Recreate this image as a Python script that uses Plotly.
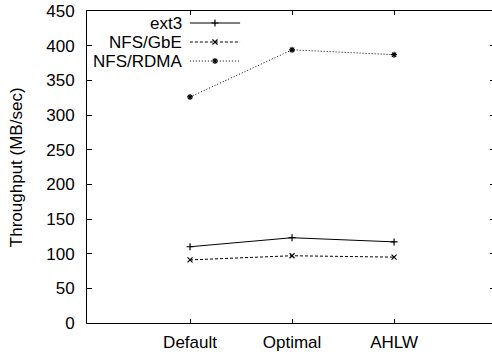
import plotly.graph_objects as go

categories = ["Default", "Optimal", "AHLW"]
ext3 = [110, 123, 117]
nfs_gbe = [91, 97, 95]
nfs_rdma = [326, 394, 387]
series_names = ["ext3", "NFS/GbE", "NFS/RDMA"]
y_ticks = [0, 50, 100, 150, 200, 250, 300, 350, 400, 450]

FONT = "Liberation Sans, Arial, Helvetica, sans-serif"
FS = 17
BLACK = "#000000"

styles = [
    dict(dash="solid", symbol="cross-thin"),
    dict(dash="3px,2px", symbol="x-thin"),
    dict(dash="1px,2px", symbol="asterisk"),
]
data = [ext3, nfs_gbe, nfs_rdma]
MS = 5

fig = go.Figure()
for name, vals, st in zip(series_names, data, styles):
    fig.add_trace(go.Scatter(
        x=categories, y=vals, mode="lines+markers", name=name,
        line=dict(color=BLACK, width=1, dash=st["dash"]),
        marker=dict(symbol=st["symbol"], size=MS, color=BLACK,
                    line=dict(color=BLACK, width=1.2)),
        showlegend=False,
    ))

# invisible trace to carry the right-hand tick axis
fig.add_trace(go.Scatter(x=categories, y=ext3, yaxis="y2", mode="lines",
                         opacity=0, showlegend=False, hoverinfo="skip"))

# custom gnuplot-style legend (text left, sample right)
leg_y = [0.9615, 0.9006, 0.8397]
for name, st, ly in zip(series_names, styles, leg_y):
    fig.add_trace(go.Scatter(
        x=[0.254, 0.316, 0.378], y=[ly, ly, ly], xaxis="x3", yaxis="y3",
        mode="lines", line=dict(color=BLACK, width=1, dash=st["dash"]),
        showlegend=False, hoverinfo="skip"))
    fig.add_trace(go.Scatter(
        x=[0.316], y=[ly], xaxis="x3", yaxis="y3", mode="markers",
        marker=dict(symbol=st["symbol"], size=MS, color=BLACK,
                    line=dict(color=BLACK, width=1.2)),
        showlegend=False, hoverinfo="skip"))
    fig.add_annotation(x=0.240, y=ly, xref="x3", yref="y3", text=name,
                       showarrow=False, xanchor="right", yanchor="middle",
                       font=dict(family=FONT, size=FS, color=BLACK))

fig.add_annotation(x=-0.175, y=0.5, xref="paper", yref="paper",
                   text="Throughput (MB/sec)", textangle=-90, showarrow=False,
                   xanchor="center", yanchor="middle",
                   font=dict(family=FONT, size=FS, color=BLACK))

fig.update_layout(
    width=492, height=356,
    margin=dict(l=87, r=0, t=11, b=33),
    paper_bgcolor="white", plot_bgcolor="white",
    font=dict(family=FONT, size=FS, color=BLACK),
    xaxis=dict(range=[-1.01, 2.96], showline=True, linecolor=BLACK, linewidth=1,
               mirror="ticks", ticks="inside", ticklen=4, tickcolor=BLACK,
               showgrid=False, zeroline=False, ticklabelstandoff=4),
    yaxis=dict(range=[0, 450], tickvals=y_ticks, showline=True, linecolor=BLACK,
               linewidth=1, mirror=False, ticks="inside", ticklen=5,
               tickcolor=BLACK, showgrid=False, zeroline=False,
               ticklabelstandoff=8),
    yaxis2=dict(range=[0, 450], tickvals=y_ticks, overlaying="y", side="right",
                ticks="inside", ticklen=2, tickcolor=BLACK, showline=False,
                showticklabels=False, showgrid=False, zeroline=False),
    xaxis3=dict(domain=[0, 1], range=[0, 1], visible=False, anchor="y3",
                overlaying="x"),
    yaxis3=dict(domain=[0, 1], range=[0, 1], visible=False, anchor="x3",
                overlaying="y"),
)

fig.write_html("out.html")
